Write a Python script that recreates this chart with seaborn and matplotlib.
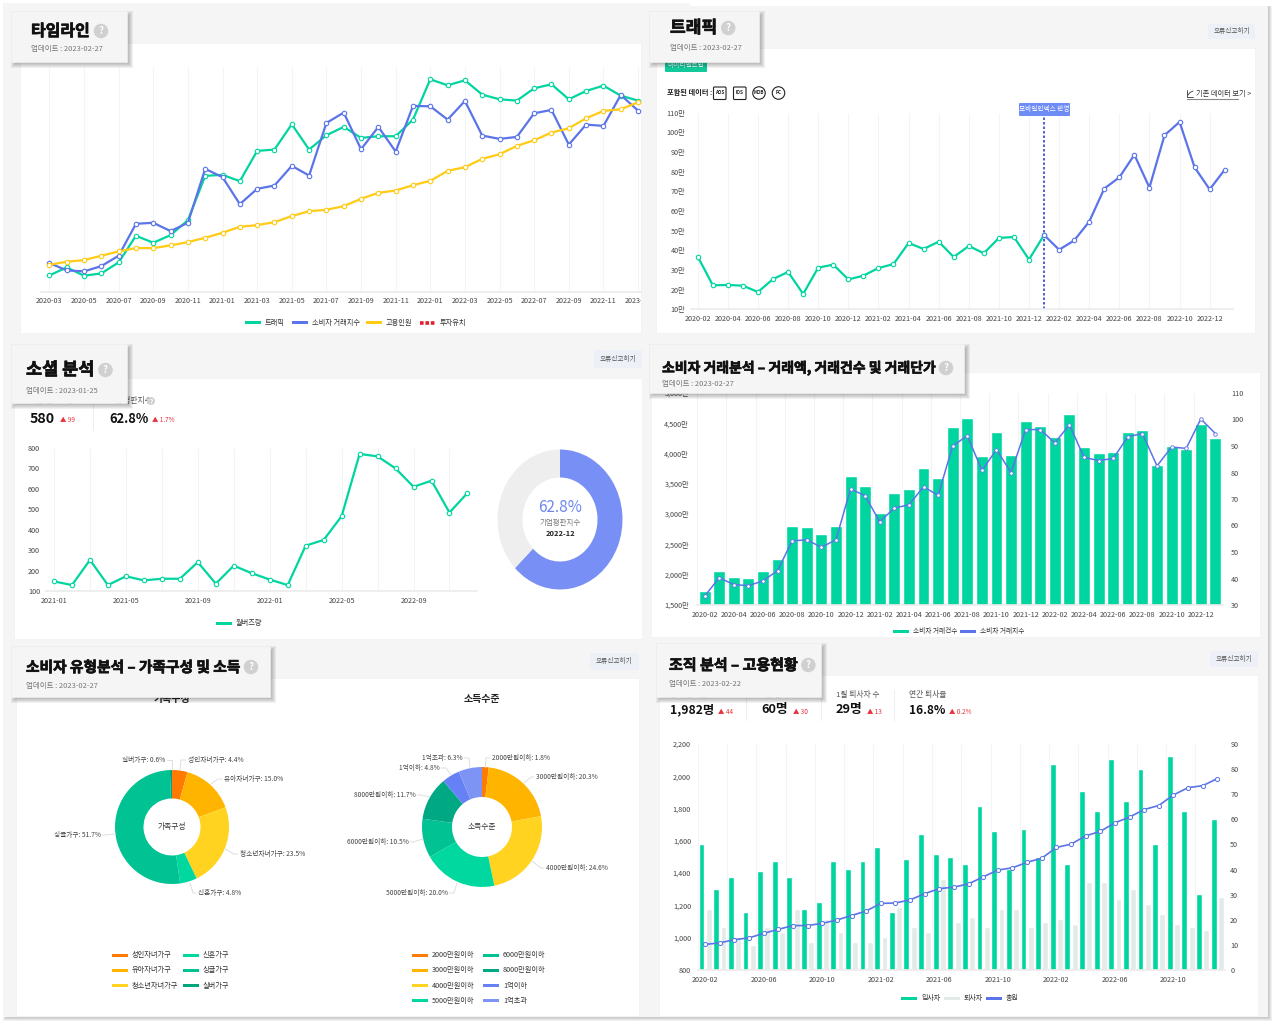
import numpy as np
import pandas as pd
import matplotlib
matplotlib.use('Agg')
import matplotlib.pyplot as plt
import matplotlib.patheffects as pe
from matplotlib.patches import Rectangle, FancyBboxPatch, Ellipse
from matplotlib.transforms import Bbox
import seaborn as sns

sns.set_theme(style='white')
plt.rcParams['font.family'] = ['Noto Sans CJK KR', 'DejaVu Sans']
plt.rcParams['axes.unicode_minus'] = False

# colours
GREEN = '#00d5a0'
BLUE = '#5b74e8'
YELLOW = '#ffcb14'
GRID = '#f3f4f4'
TICK = '#444444'

# --- timeline (unitless index, no axis labels in the source)
timeline_months = pd.date_range('2020-03', periods=35, freq='MS').strftime('%Y-%m').tolist()
timeline_traffic = [49, 73, 48, 55, 88, 168, 147, 170, 215, 348, 351, 332, 423, 427, 503, 427, 470, 495,
                    462, 467, 467, 517, 638, 620, 635, 592, 578, 574, 611, 623, 578, 603, 619, 589, 574]
timeline_trade = [86, 64, 61, 77, 108, 204, 207, 182, 207, 369, 344, 263, 309, 319, 378, 349, 507, 538,
                  428, 495, 421, 558, 557, 517, 573, 469, 459, 465, 536, 546, 442, 502, 498, 591, 544]
timeline_staff = [81, 90, 95, 108, 121, 131, 131, 139, 149, 162, 177, 195, 200, 209, 227, 242, 246, 257,
                  279, 297, 304, 320, 333, 363, 374, 399, 413, 438, 455, 478, 491, 521, 543, 548, 569]

# --- traffic (만)
traffic_months = pd.date_range('2020-02', periods=36, freq='MS').strftime('%Y-%m').tolist()
traffic_web = [36.8, 22.2, 22.4, 22, 18.8, 25.4, 29, 17.8, 31.2, 32.7, 25.2, 27.1, 31, 33, 43.7, 40.7,
               44.4, 36.6, 42.2, 38.5, 46.3, 46.8, 35.3, 47.8]
traffic_mobile = [47.8, 40.3, 45, 54.6, 71.4, 77.1, 88.6, 71.9, 98.5, 105.3, 82.2, 71, 81]
traffic_yticks = [10, 20, 30, 40, 50, 60, 70, 80, 90, 100, 110]

# --- social
social_months = pd.date_range('2021-01', periods=24, freq='MS').strftime('%Y-%m').tolist()
social_buzz = [147, 129, 252, 129, 172, 152, 160, 160, 241, 136, 224, 187,
               156, 129, 322, 350, 466, 771, 759, 700, 610, 640, 484, 580]
reputation = [62.8, 37.2]

# --- consumer trade
trade_count = [1737, 2067, 1957, 1951, 2061, 2254, 2799, 2788, 2673, 2805, 3625, 3460,
               3025, 3344, 3416, 3762, 3597, 4434, 4588, 3961, 4363, 3972, 4539, 4462,
               4275, 4649, 4104, 4010, 4032, 4357, 4396, 3812, 4120, 4076, 4489, 4253]
trade_index = [33.3, 40.3, 37.7, 37.3, 39.1, 43, 54.2, 54.6, 51.8, 54.6, 73.8, 71.2,
               61.4, 66.6, 67.8, 74.6, 71.4, 90, 93.9, 80.8, 88.6, 80, 96.2, 96.2,
               91.2, 98, 85.7, 84.5, 85.3, 93.5, 94.7, 82.5, 89.6, 89.1, 100.2, 94.7]

# --- consumer type donuts
family_labels = ['성인자녀가구', '유아자녀가구', '청소년자녀가구', '신혼가구', '싱글가구', '실버가구']
family_values = [4.4, 15.0, 23.5, 4.8, 51.7, 0.6]
family_colors = ['#ff7a00', '#ffb400', '#ffd31f', '#00d8a0', '#00c292', '#00a57e']
income_labels = ['2000만원이하', '3000만원이하', '4000만원이하', '5000만원이하',
                 '6000만원이하', '8000만원이하', '1억이하', '1억초과']
income_values = [1.8, 20.3, 24.6, 20.0, 10.5, 11.7, 4.8, 6.3]
income_colors = ['#ff7a00', '#ffb400', '#ffd31f', '#00d8a0', '#00c292', '#00a883', '#6680f5', '#7e94f5']

# --- employment
hires = [1580, 1302, 1379, 1160, 1412, 1474, 1379, 1176, 1224, 1474, 1427, 1474,
         1563, 1160, 1489, 1642, 1518, 1501, 1458, 1813, 1658, 1427, 1673, 1501,
         2078, 1458, 1908, 1782, 2109, 1844, 2047, 1580, 2126, 1782, 1269, 1737]
leavers = [1176, 1065, 1003, 957, 1065, 1038, 1176, 972, 1114, 1034, 972, 972,
           1005, 1191, 1065, 1034, 1365, 1098, 1129, 1065, 1176, 1176, 1065, 1098,
           1114, 1083, 1348, 1348, 1238, 1302, 1207, 1145, 1083, 1065, 1050, 1255]
headcount = [10.2, 10.8, 12.1, 12.8, 14.6, 16.2, 17.7, 17.7, 18.6, 19.9, 21.7, 23.5,
             26.5, 26.7, 27.9, 30.4, 32.4, 33, 34.3, 37.1, 39.8, 40.7, 42.9, 44.5,
             48.8, 50.1, 53.4, 55.2, 58.6, 60.9, 63.9, 65.5, 69.7, 72.6, 73.4, 76.2]

W, H = 1280, 1028
fig = plt.figure(figsize=(W / 100, H / 100), dpi=100, facecolor='white')


def px_axes(l, t, r, b, z=2):
    ax = fig.add_axes([l / W, 1 - b / H, (r - l) / W, (b - t) / H], zorder=z)
    ax.patch.set_alpha(0)
    return ax


def overlay(z):
    ax = px_axes(0, 0, W, H, z)
    ax.set_xlim(0, W)
    ax.set_ylim(H, 0)
    ax.axis('off')
    return ax


def shadow(ax, x0, y0, x1, y1, dx, dy, z):
    # soft edge: stacked see-through boxes, each a little smaller
    for k in range(7):
        g = 3 - k
        ax.add_patch(Rectangle((x0 + dx - g, y0 + dy - g), x1 - x0 + 2 * g, y1 - y0 + 2 * g,
                               fc='black', ec='none', alpha=0.055, zorder=z))


def style_axis(ax, xticks, xlabels, grid_x):
    sns.despine(ax=ax, left=True, top=True, right=True)
    ax.spines['bottom'].set_color('#ececec')
    ax.set_xticks(xticks)
    ax.set_xticklabels(xlabels)
    ax.tick_params(axis='both', length=0, labelsize=5.2, labelcolor=TICK, pad=4)
    ax.set_xlabel('')
    ax.set_ylabel('')
    ax.vlines(grid_x, 0, 1, transform=ax.get_xaxis_transform(), color=GRID, lw=0.8, zorder=0)


def draw_line(ax, x, y, color, lw=1.6, ms=3.2, mew=0.8):
    sns.lineplot(x=x, y=y, ax=ax, color=color, lw=lw, marker='o', ms=ms, mfc='white',
                 mec=color, mew=mew, legend=False, errorbar=None, sort=False)


bg = overlay(0)
top = overlay(5)

# page background and cards
shadow(bg, 3, 3, 1266, 1015, 3, 3, 1)
bg.add_patch(Rectangle((3, 3), 1265, 1014, fc='#f5f5f5', ec='none', zorder=2))
bg.add_patch(Rectangle((690, 0), 590, 6, fc='white', ec='none', zorder=2))
for l, t, r, b in [(20, 43, 641, 333), (656, 48, 1255, 333), (14, 378, 642, 639),
                   (651, 372, 1260, 637), (16, 678, 639, 1016), (659, 675, 1258, 1016)]:
    bg.add_patch(Rectangle((l, t), r - l, b - t, fc='white', ec='#f0f0f0', lw=0.5, zorder=3))

# report buttons
for l, t, r, b in [(1208, 24, 1255, 39), (594, 350, 642, 368), (590, 653, 639, 670), (1210, 651, 1258, 667)]:
    bg.add_patch(FancyBboxPatch((l + 1, t + 1), r - l - 2, b - t - 2, boxstyle='round,pad=1', fc='#eef0f8',
                                ec='none', zorder=4))
    bg.text((l + r) / 2, (t + b) / 2, '오류신고하기', fontsize=4.8, color='#555555', ha='center',
            va='center', zorder=5)


def legend_item(x, y, label, color, dashed=False, size=5.2):
    if dashed:
        top.plot([x, x + 16], [y, y], color=color, lw=2.6, ls=(0, (1, 0.5)), solid_capstyle='butt')
    else:
        top.add_patch(Rectangle((x, y - 1.5), 16, 3, fc=color, ec='none'))
    top.text(x + 20, y, label, fontsize=size, color='#333333', va='center', ha='left')


def help_dot(ax, x, y, d, size, z=8):
    ax.add_patch(Ellipse((x, y), d, d, fc='#d0d0d0', ec='none', zorder=z))
    ax.text(x, y, '?', fontsize=size, color='white', weight='bold', ha='center', va='center', zorder=z + 1)


# 1. timeline
ax1 = px_axes(41, 67, 641, 291.7)
idx = np.arange(35)
style_axis(ax1, idx[::2], timeline_months[::2], idx[::2])
draw_line(ax1, idx, timeline_traffic, GREEN)
draw_line(ax1, idx, timeline_trade, BLUE)
draw_line(ax1, idx, timeline_staff, YELLOW)
ax1.set_xlim(-0.485, 34.17)
ax1.set_ylim(0, 675)
ax1.set_yticks([])
clip = Bbox([[0, 0], [641, H]])
for lab in ax1.get_xticklabels():
    lab.set_clip_box(clip)
    lab.set_clip_on(True)
legend_item(245, 322.5, '트래픽', GREEN)
legend_item(292, 322.5, '소비자 거래지수', BLUE)
legend_item(366, 322.5, '고용인원', YELLOW)
legend_item(420, 322.5, '투자유치', '#e0202c', dashed=True)

# 2. traffic
ax2 = px_axes(691, 112.7, 1233, 309.3)
idx = np.arange(36)
style_axis(ax2, idx[::2], traffic_months[::2], idx[::2])
draw_line(ax2, idx[:24], traffic_web, GREEN)
draw_line(ax2, idx[23:], traffic_mobile, BLUE)
ax2.axvline(23, color='#3346d3', lw=1.2, ls=(0, (1.5, 1.2)), ymax=0.985, zorder=1)
ax2.set_xlim(-0.45, 35.55)
ax2.set_ylim(10, 110)
ax2.set_yticks(traffic_yticks)
ax2.set_yticklabels([f'{v}만' for v in traffic_yticks])
top.add_patch(FancyBboxPatch((1020, 104), 49, 11, boxstyle='round,pad=1', fc='#6e8cf5', ec='none'))
top.text(1044.5, 109.5, '모바일인덱스 반영', fontsize=4.8, color='white', ha='center', va='center')
bg.add_patch(FancyBboxPatch((666, 55), 40, 16, boxstyle='round,pad=1', fc='#12c99b', ec='none', zorder=4))
bg.text(686, 65.5, '마이리얼트립', fontsize=4.8, color='white', ha='center', va='center', zorder=5)
top.text(667, 92.5, '포함된 데이터 :', fontsize=5.2, color='#222222', weight='bold', va='center')
for x0, name in [(713.5, 'AOS'), (733.5, 'IOS')]:
    top.add_patch(FancyBboxPatch((x0 + 1, 88), 10.5, 10.5, boxstyle='round,pad=1', fc='white', ec='#222222', lw=0.8))
    top.text(x0 + 6.2, 92.8, name, fontsize=3.3, color='#222222', weight='bold', ha='center', va='center')
for xc, name in [(759, 'MOB'), (778.5, 'PC')]:
    top.add_patch(Ellipse((xc, 93), 12.5, 12.5, fc='white', ec='#222222', lw=0.8))
    top.text(xc, 92.8, name, fontsize=3.3, color='#222222', weight='bold', ha='center', va='center')
top.text(1196, 94, '기존 데이터 보기 >', fontsize=5.2, color='#333333', va='center')
top.plot([1187, 1187, 1193], [90, 97, 97], color='#333333', lw=0.6)
top.plot([1188, 1190, 1193], [95, 92.5, 91], color='#333333', lw=0.6)
top.plot([1187, 1238], [99, 99], color='#888888', lw=0.8)

# 3. social
ax3 = px_axes(45.6, 448, 477, 591)
idx = np.arange(24)
style_axis(ax3, idx[::4], social_months[::4], idx[::2])
draw_line(ax3, idx, social_buzz, GREEN)
ax3.set_xlim(-0.467, 23.53)
ax3.set_ylim(100, 800)
ax3.set_yticks(range(100, 801, 100))
legend_item(216, 623, '월버즈량', GREEN)

ax3b = px_axes(497.5, 449.5, 622.5, 589.5)
ax3b.pie(reputation, colors=['#7890f5', '#eeeeee'], startangle=90, counterclock=False,
         radius=1, wedgeprops={'width': 0.4, 'linewidth': 0})
ax3b.set_aspect('auto')
ax3b.set_xlim(-1, 1)
ax3b.set_ylim(-1, 1)
top.text(560, 507, '62.8%', fontsize=11, color='#6e86ec', ha='center', va='center')
top.text(560, 523, '기업평판지수', fontsize=5.4, color='#777777', ha='center', va='center')
top.text(560, 534, '2022-12', fontsize=5.4, color='#222222', weight='bold', ha='center', va='center')


def kpi(x, label, value, delta, y_label, y_val, dx, size=10):
    bg.text(x, y_label, label, fontsize=5.6, color='#555555', va='center', zorder=5)
    top.text(x, y_val, value, fontsize=size, color='#111111', weight='bold', va='center')
    top.text(x + dx, y_val + 1.5, '▲ ' + delta, fontsize=4.6, color='#e8323c', va='center')


kpi(30, '최근 월버즈량', '580', '99', 401, 419, 30, size=10.3)
kpi(109, '기업평판지수', '62.8%', '1.7%', 401, 419, 43, size=9.3)
top.plot([93, 93], [395, 430], color='#eeeeee', lw=0.8)
help_dot(bg, 151, 401, 8, 4.5, z=5)

# 4. consumer trade
ax4 = px_axes(697.3, 393, 1222.7, 605)
sns.barplot(x=traffic_months, y=trade_count, ax=ax4, color=GREEN, width=0.82, saturation=1)
style_axis(ax4, np.arange(36)[::2], traffic_months[::2], np.arange(-0.5, 36, 2))
ax4.set_xlim(-0.5, 35.5)
ax4.set_ylim(1500, 5000)
ax4.set_yticks(range(1500, 5001, 500))
ax4.set_yticklabels([f'{v:,}만' for v in range(1500, 5001, 500)])
ax4.tick_params(axis='y', pad=6)
ax4r = ax4.twinx()
ax4r.patch.set_alpha(0)
draw_line(ax4r, np.arange(36), trade_index, BLUE, lw=1.1, ms=2.6, mew=0.6)
ax4r.set_ylim(30, 110)
ax4r.set_yticks(range(30, 111, 10))
ax4r.set_ylabel('')
ax4r.tick_params(axis='y', length=0, labelsize=5.2, labelcolor=TICK, pad=6)
sns.despine(ax=ax4r, left=True, top=True, right=True, bottom=True)
legend_item(893, 631, '소비자 거래건수', GREEN, size=4.8)
legend_item(960, 631, '소비자 거래지수', BLUE, size=4.8)


# 5. consumer type donuts
def donut(cx, cy, r, values, colors, center):
    ax = px_axes(cx - r, cy - r, cx + r, cy + r)
    ax.pie(values, colors=colors, startangle=90, counterclock=False, radius=1,
           wedgeprops={'width': 0.5, 'linewidth': 0})
    ax.set_xlim(-1, 1)
    ax.set_ylim(-1, 1)
    top.text(cx, cy, center, fontsize=5.6, color='#333333', ha='center', va='center')


donut(172, 827, 57, family_values, family_colors, '가족구성')
donut(482, 827, 60, income_values, income_colors, '소득수준')
bg.text(172, 699, '가족구성', fontsize=7.2, weight='bold', color='#222222', ha='center', va='center', zorder=5)
top.text(482, 699, '소득수준', fontsize=7.2, weight='bold', color='#222222', ha='center', va='center')


def callout(label, value, path, side):
    top.plot([p[0] for p in path], [p[1] for p in path], color='#d9d9d9', lw=0.6)
    top.text(path[-1][0] + (1.5 if side == 'left' else -1.5), path[-1][1], f'{label}: {value:.1f}%', fontsize=4.8,
             color='#444444', ha=side, va='center')


family_paths = [[(180, 770), (181, 760), (186, 760)], [(211, 784), (218, 779), (222, 779)],
                [(225, 849), (234, 854), (238, 854)], [(190, 883), (193, 893), (196, 893)],
                [(116, 834), (104, 835), (102, 835)], [(172, 770), (172, 760), (167, 760)]]
family_sides = ['left', 'left', 'left', 'left', 'right', 'right']
for lab, val, p, s in zip(family_labels, family_values, family_paths, family_sides):
    callout(lab, val, p, s)
income_paths = [[(485.5, 768), (486, 758), (490, 758)], [(524, 783), (531, 777), (534, 777)],
                [(532, 861), (541, 868), (544, 868)], [(457, 883), (454, 893), (449, 893)],
                [(423, 839), (413, 842), (410, 842)], [(430, 797), (421, 795), (417, 795)],
                [(451, 775), (446, 768), (441, 768)], [(470, 768), (469, 758), (464, 758)]]
income_sides = ['left', 'left', 'left', 'right', 'right', 'right', 'right', 'right']
for lab, val, p, s in zip(income_labels, income_values, income_paths, income_sides):
    callout(lab, val, p, s)

for i, (lab, col) in enumerate(zip(family_labels, family_colors)):
    legend_item(112 if i < 3 else 183, 955 + (i % 3) * 15.3, lab, col, size=5.2)
for i, (lab, col) in enumerate(zip(income_labels, income_colors)):
    legend_item(411.5 if i < 4 else 483, 955 + (i % 4) * 15.3, lab, col, size=5.2)

# 6. employment
ax6 = px_axes(697.9, 744, 1224.6, 970)
emp = pd.DataFrame({'month': traffic_months * 2,
                    'count': hires + leavers,
                    'type': ['입사자'] * 36 + ['퇴사자'] * 36})
sns.barplot(data=emp, x='month', y='count', hue='type', palette=[GREEN, '#e2ebe7'], width=1, gap=0.2,
            saturation=1, legend=False, ax=ax6)
style_axis(ax6, np.arange(36)[::4], traffic_months[::4], np.arange(-0.5, 36, 2))
ax6.set_xlim(-0.5, 35.5)
ax6.set_ylim(800, 2200)
ax6.set_yticks(range(800, 2201, 200))
ax6.set_yticklabels([f'{v:,}' for v in range(800, 2201, 200)])
ax6.tick_params(axis='y', pad=5)
ax6r = ax6.twinx()
ax6r.patch.set_alpha(0)
draw_line(ax6r, np.arange(36), headcount, BLUE, lw=1.2, ms=3, mew=0.7)
ax6r.set_ylim(0, 90)
ax6r.set_yticks(range(0, 91, 10))
ax6r.set_ylabel('')
ax6r.tick_params(axis='y', length=0, labelsize=5.2, labelcolor=TICK, pad=4)
sns.despine(ax=ax6r, left=True, top=True, right=True, bottom=True)
legend_item(901, 998, '입사자', GREEN, size=5)
legend_item(943.5, 998, '퇴사자', '#e2ebe7', size=5)
legend_item(986, 998, '총원', BLUE, size=5)

kpi(670, '전체 임직원 수', '1,982명', '44', 695, 710, 48, size=8.8)
kpi(761, '1월 입사자 수', '60명', '30', 695, 710, 32, size=9.2)
kpi(836, '1월 퇴사자 수', '29명', '13', 695, 710, 31, size=9.2)
kpi(909, '연간 퇴사율', '16.8%', '0.2%', 695, 710, 40, size=8.6)
for x in (746, 821, 894):
    top.plot([x, x], [690, 720], color='#eeeeee', lw=0.8)

# title boxes sit above everything
titles = [
    ('타임라인', '업데이트 : 2023-02-27', (11, 11, 127, 62), 31, 31, 49, 11.5),
    ('트래픽', '업데이트 : 2023-02-27', (649, 11, 759, 62), 670, 28, 48, 12.3),
    ('소셜 분석', '업데이트 : 2023-01-25', (11, 344, 127, 403), 26, 370, 391, 12.6),
    ('소비자 거래분석 – 거래액, 거래건수 및 거래단가', '업데이트 : 2023-02-27', (649, 344, 964, 393), 662, 368, 384, 10),
    ('소비자 유형분석 – 가족구성 및 소득', '업데이트 : 2023-02-27', (11, 646, 270, 697), 26, 667, 686, 10.6),
    ('조직 분석 – 고용현황', '업데이트 : 2023-02-22', (656, 643, 821, 697), 669, 665, 684, 10.8),
]
for text, sub, (l, t, r, b), x, y, y2, size in titles:
    shadow(top, l, t, r, b, 3, 3, 6)
    top.add_patch(Rectangle((l, t), r - l, b - t, fc='#f5f5f5', ec='#eeeeee', lw=0.5, zorder=7))
    tt = top.text(x, y, text, fontsize=size, weight='bold', color='#111111', va='center', ha='left', zorder=8,
                  path_effects=[pe.withStroke(linewidth=0.5, foreground='#111111')])
    top.text(x, y2, sub, fontsize=5.4, color='#777777', va='center', ha='left', zorder=8)
    fig.canvas.draw()
    box = tt.get_window_extent()
    help_dot(top, box.x1 + 11, y, 14.5, 7)

fig.savefig('out.png', dpi=100)
